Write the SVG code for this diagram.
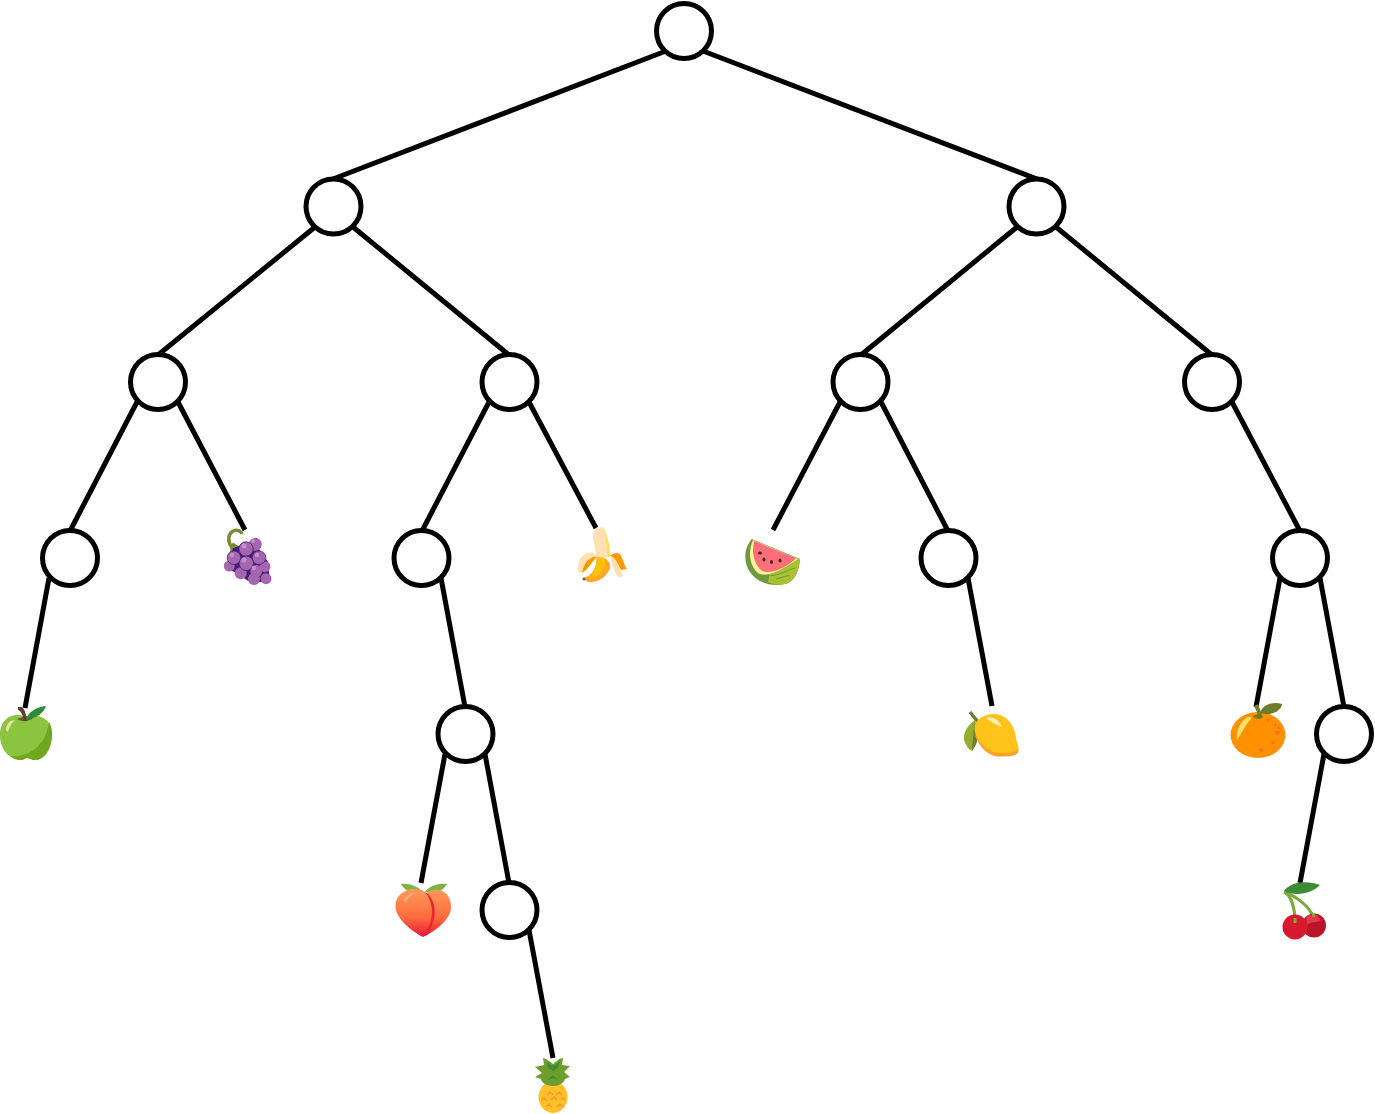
<svg xmlns="http://www.w3.org/2000/svg" width="1375" height="1114" viewBox="0 0 1375 1114">
<style>
.n{fill:#fff;stroke:#000;stroke-width:5}
.e{stroke:#000;stroke-width:5;fill:none}
.g{fill:#a566b0}
.gh{fill:#c490cc}
</style>
<defs>
<linearGradient id="pe" x1="0" y1="0" x2="0" y2="1"><stop offset="0" stop-color="#ff9a5c"/><stop offset="0.6" stop-color="#ff6a3c"/><stop offset="1" stop-color="#e8173a"/></linearGradient>
</defs>
<rect width="1375" height="1114" fill="#fff"/>
<g id="connectors" class="e">
<path d="M666 51L333 179M703 51L1037 179"/>
<path d="M315 227L158 355M353 227L509 355M1017 227L861 355M1056 227L1212 355"/>
<path d="M137 402L70 531M178 402L245 530M489 402L422 531M529 402L596 528M840 402L773 530M881 402L948 531M1232 402L1300 531"/>
<path d="M49 578L25 708M441 578L465 707M968 578L992 706M1280 578L1256 707M1320 578L1344 707"/>
<path d="M445 754L421 883M485 754L509 883M1324 754L1300 883M529 930L553 1058"/>
</g>
<g id="n0"><circle class="n" cx="684" cy="31" r="27.500"/></g>
<g id="n1"><circle class="n" cx="333.500" cy="206.500" r="27.500"/></g>
<g id="n2"><circle class="n" cx="1036.500" cy="206.500" r="27.500"/></g>
<g id="n3"><circle class="n" cx="158" cy="382" r="27.500"/></g>
<g id="n4"><circle class="n" cx="509.500" cy="382" r="27.500"/></g>
<g id="n5"><circle class="n" cx="860.500" cy="382" r="27.500"/></g>
<g id="n6"><circle class="n" cx="1212" cy="382" r="27.500"/></g>
<g id="n7"><circle class="n" cx="70" cy="558" r="27.500"/></g>
<g id="n8"><circle class="n" cx="421.500" cy="558" r="27.500"/></g>
<g id="n9"><circle class="n" cx="948.500" cy="558" r="27.500"/></g>
<g id="n10"><circle class="n" cx="1300" cy="558" r="27.500"/></g>
<g id="n11"><circle class="n" cx="465.500" cy="734" r="27.500"/></g>
<g id="n12"><circle class="n" cx="1344" cy="734" r="27.500"/></g>
<g id="n13"><circle class="n" cx="509.500" cy="910" r="27.500"/></g>
<g id="apple">
<path d="M26 717C16 712 0 716 0 735C0 750 10 760 21 760C24 760 25 758 27 758C30 758 31 760 35 760C45 760 52 748 52 734C52 718 38 713 26 717Z" fill="#8bc540"/>
<path d="M52 734C52 748 45 760 35 760C31 760 30 758 27 758C25 758 24 760 21 760C17 760 14 759 11 756C25 757 45 750 49 722C51 725 52 729 52 734Z" fill="#6fa81e"/>
<path d="M6 730C6 724 10 720 15 720C11 724 9 728 8 732Z" fill="#e3e39a"/>
<path d="M17 719C21 722 29 722 33 718L26 716Z" fill="#6b5a3a"/>
<path d="M18 707L22 707C26 711 26 716 27 721L24 721C23 716 22 712 18 710Z" fill="#5d4037"/>
<path d="M26 720C28 712 36 707 46 706C44 712 38 718 26 720Z" fill="#2e8b3a"/>
</g>
<g id="grapes">
<path d="M232 547C228 543 227 535 233 531C237 529 241 531 242 534" fill="none" stroke="#7c8a36" stroke-width="3.500"/>
<path d="M232 546L232 552M232 544L240 549" stroke="#7c8a36" stroke-width="3.500" fill="none"/>
<path d="M233 548L254 542L268 562L270 582L250 582L228 568Z" fill="#4a1a7a"/>
<circle class="g" cx="255.300" cy="544.300" r="6.500"/><circle class="g" cx="265" cy="566.700" r="5.500"/>
<circle class="g" cx="229.300" cy="566" r="5.500"/><circle class="g" cx="240.700" cy="573.300" r="6"/>
<circle class="g" cx="254" cy="579" r="6"/><circle class="g" cx="266" cy="578.700" r="5.500"/>
<circle cx="256.300" cy="571" r="6" class="g"/>
<circle class="g" cx="259" cy="557.700" r="6.800" stroke="#4a1a7a" stroke-width="0.800"/>
<circle class="g" cx="234" cy="557.700" r="6.800" stroke="#4a1a7a" stroke-width="0.800"/>
<circle class="g" cx="246" cy="549" r="7.200" stroke="#4a1a7a" stroke-width="0.800"/>
<circle class="g" cx="246.300" cy="563.300" r="7.200" stroke="#4a1a7a" stroke-width="0.800"/>
<circle class="gh" cx="244" cy="546" r="2.500"/><circle class="gh" cx="232" cy="555" r="2.200"/>
<circle class="gh" cx="257" cy="555" r="2.200"/><circle class="gh" cx="244" cy="560" r="2.500"/>
<circle class="gh" cx="254" cy="568" r="2.200"/><circle class="gh" cx="253" cy="541" r="2"/>
</g>
<g id="banana">
<path d="M597 555C607 558 611 562 610 568C607 577 597 583 590 582C587 582 584 580 583 578C592 576 597 568 597 555Z" fill="#ffa726"/>
<path d="M597 555C603 556 607 560 605 567C602 573 596 578 590 578C594 571 597 564 597 555Z" fill="#ffc107"/>
<path d="M596.700 528.300L603.300 527C607 535 610 545 610.500 556C607 558 599 558 596 556C596 547 592 540 593.300 533Z" fill="#ffe0b2"/>
<path d="M603.300 527C607 535 610 545 610.500 556L607 557C607 545 605 535 603.300 527Z" fill="#ffe066"/>
<path d="M578 572C577 562 581 554 588 552.700C592 552 596 554 597 557C590 557 584 563 581.700 573Z" fill="#ffe0b2"/>
<path d="M588 560C592 557 595 556 597 557C592 562 590 566 586 570L582 573C583 567 585 563 588 560Z" fill="#ff9800"/>
<path d="M610 556C613 553 618 552 620 554C623 559 624 565 627 569L621 570C618 563 614 557 610 556Z" fill="#ff9800"/>
<path d="M610 556C614 557 617 561 619 567L623 576C621 578 618 578 616 574C613 568 611 561 610 556Z" fill="#ffe0b2"/>
<circle cx="584" cy="579" r="1.500" fill="#795548"/>
</g>
<g id="watermelon">
<path d="M751.700 539C744 548 743 562 750 572C757 583 772 587 785 584C794 582 799 572 800 559Z" fill="#6f9a3c"/>
<path d="M768 582C774 585 780 585 785 584C794 582 799 572 800 559L790 558L770 572Z" fill="#a8c232"/>
<path d="M776 579C782 578 786 575 790 576M770 576C780 575 788 570 795 568" fill="none" stroke="#6f9a3c" stroke-width="1"/>
<path d="M753 540C748 552 749 565 758 573C764 577 776 574 798 559Z" fill="#fff59d"/>
<path d="M754.300 541L796 558.300C787 567 772 575 762 571C754 564 751 552 754.300 541Z" fill="#ff6f7a"/>
<ellipse cx="760" cy="553" rx="2" ry="1.500" fill="#3e2723"/><ellipse cx="764" cy="559.500" rx="1.500" ry="2" fill="#3e2723"/>
<ellipse cx="771.500" cy="562" rx="1.500" ry="2" fill="#3e2723"/><ellipse cx="780" cy="560.500" rx="1.500" ry="2" fill="#3e2723"/>
</g>
<g id="peach">
<path d="M401 884C408 883 418 886 423 892L412 893C407 891 403 888 401 884ZM447 884C440 883 430 885 425 892L436 893C441 891 445 888 447 884Z" fill="#7cb342"/>
<path d="M423 937C410 930 395.500 918 395.500 906C395.500 895 405 889 414 889C420 889 424 891 426 893C430 890 435 889 439 890C447 891 451 899 451 907C451 919 436 931 423 937Z" fill="url(#pe)"/>
<path d="M425 892C436 898 439 918 427 935L424 936C435 920 434 902 425 892Z" fill="#e8262e"/>
<path d="M404 900C407 895 411 893 416 893C411 895 407 898 405 903Z" fill="#ffb38a"/>
</g>
<g id="pineapple">
<ellipse cx="553" cy="1097" rx="14.500" ry="16" fill="#ffc02a"/>
<path d="M547 1095l3-3 3 3M556 1095l3-3 3 3M541 1101l3-3 3 3M551 1100l3-3 3 3M561 1100l2-2 2 2M546 1107l3-3 3 3M557 1107l3-3 3 3" fill="none" stroke="#f59b2d" stroke-width="1.500"/>
<path d="M553 1086C546 1086 541 1082 541 1079L535 1077L542 1073L535 1067L544 1065L543 1058C547 1059 550 1062 553 1064C556 1062 559 1058 563 1058L562 1065L570 1066L564 1072L570 1077L565 1079C564 1083 559 1086 553 1086Z" fill="#6c9e2e"/>
<path d="M547 1061C549 1064 551 1065 553 1066C555 1065 557 1063 560 1061L558 1068L553 1071L548 1068ZM553 1075L558 1080L553 1078L548 1080Z" fill="#3f8a35"/>
</g>
<g id="lemon">
<path d="M970 712L978 722" stroke="#6b7d3a" stroke-width="3.500" fill="none"/>
<path d="M975 720C967 725 963 734 964 740C966 746 969 750 972 751C976 744 978 730 975 720Z" fill="#94ad2c"/>
<path d="M975 722C973 730 973 742 972 751C976 746 979 740 977 730Z" fill="#6b7d3a"/>
<path d="M975 732C972 722 982 714 994 714C1006 714 1015 725 1016 738C1017 744 1020 748 1018 752C1017 756 1008 756 1000 756C988 757 979 746 975 732Z" fill="#ffc31a"/>
<path d="M974 732C978 746 988 757 1000 756.500C1008 756.500 1017 756 1018 752L1018.500 749C1014 754 1005 753 998 753C988 752 979 743 974 732Z" fill="#ffa02a"/>
<path d="M986 718C990 716 998 718 1002 727C998 726 991 722 986 718Z" fill="#fff0b0"/>
</g>
<g id="orange">
<ellipse cx="1258" cy="735" rx="27.500" ry="23" fill="#ff9100"/>
<path d="M1237 740C1236 730 1240 723 1246 718C1250 716 1252 717 1251 719C1247 723 1243 730 1239 737Z" fill="#ffe066"/>
<path d="M1254 706L1258 704L1262 715L1263 717C1260 720 1254 719 1253 716L1258 714Z" fill="#6b7d2a"/>
<path d="M1260 713C1262 705 1273 701 1282 704C1282 709 1273 717 1260 713Z" fill="#6b7d2a"/>
<g fill="#ff6d1f"><circle cx="1268" cy="720" r="1.500"/><circle cx="1275" cy="725" r="1.500"/><circle cx="1279" cy="727.500" r="1.500"/><circle cx="1277.500" cy="733" r="2"/><circle cx="1273" cy="742.500" r="1.500"/><circle cx="1261" cy="750" r="2"/></g>
</g>
<g id="cherry">
<path d="M1284 892C1290 895 1295 905 1295 923M1284 892C1296 896 1309 906 1313.500 917" fill="none" stroke="#7cab3a" stroke-width="3"/>
<path d="M1284 891C1290 882 1306 880 1320 885C1312 893 1297 897 1284 891Z" fill="#3d8b34"/>
<circle cx="1314" cy="925.500" r="12" fill="#b8142a"/>
<circle cx="1295" cy="927" r="12.500" fill="#d7192f"/>
<path d="M1306 917C1309 914 1314 914 1318 916L1321 921C1315 922 1310 922 1307 925Z" fill="#e8354a"/>
<path d="M1295 923V918M1313.500 917V913" stroke="#7cab3a" stroke-width="3"/>
</g>
</svg>
